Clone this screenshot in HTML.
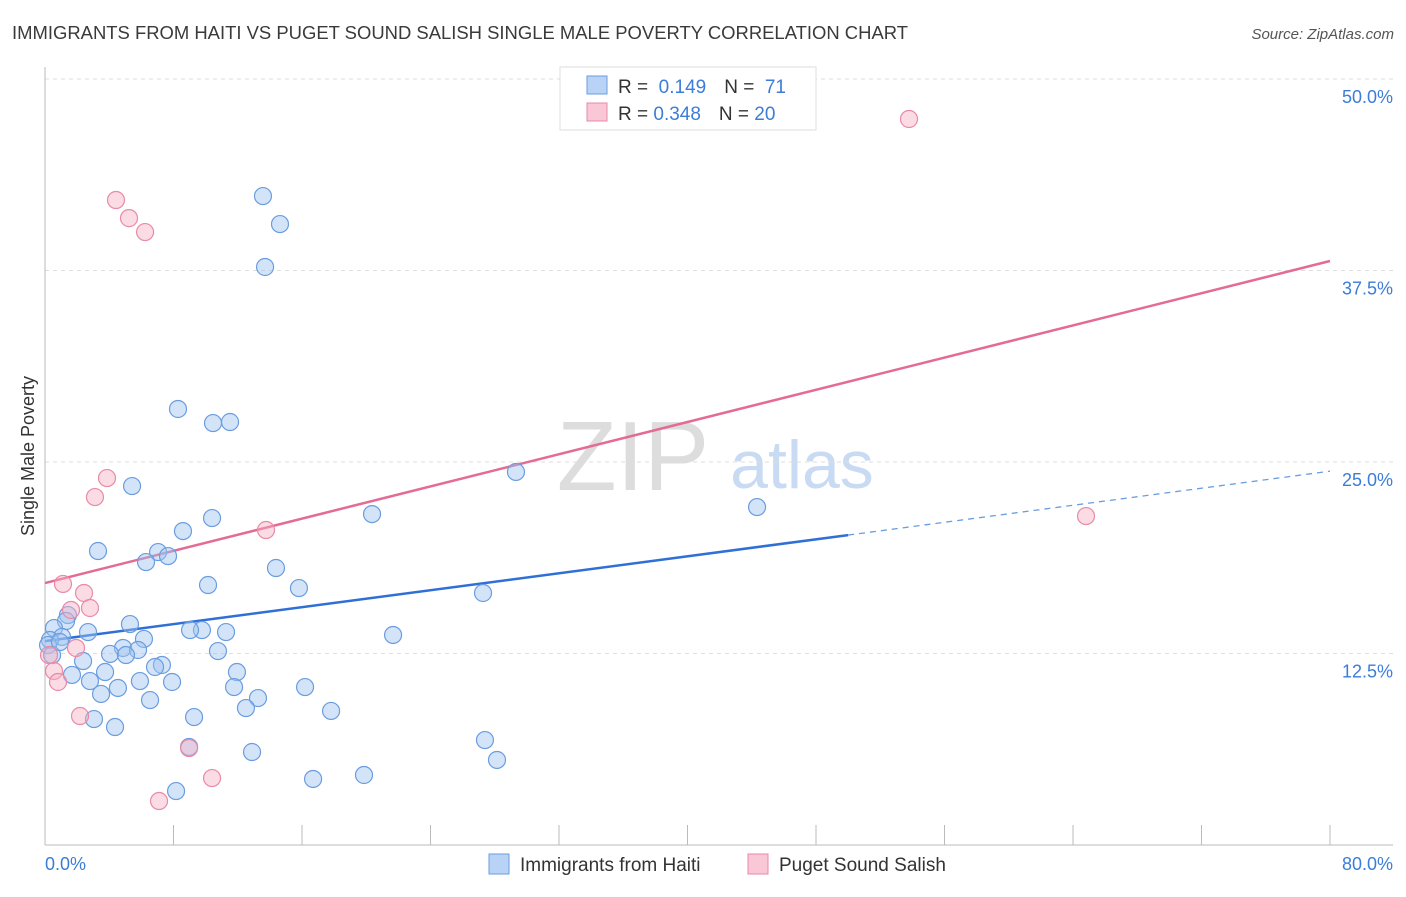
<!DOCTYPE html>
<html><head><meta charset="utf-8"><style>
body{margin:0;background:#fff;font-family:"Liberation Sans",sans-serif}
svg text{font-family:"Liberation Sans",sans-serif}
</style></head><body>
<svg id="chart" width="1406" height="892" xmlns="http://www.w3.org/2000/svg">
<text x="12" y="39" font-size="18.4" fill="#3a3a3a" textLength="896" lengthAdjust="spacingAndGlyphs">IMMIGRANTS FROM HAITI VS PUGET SOUND SALISH SINGLE MALE POVERTY CORRELATION CHART</text>
<text x="1394" y="39" font-size="15" fill="#555" text-anchor="end" font-style="italic">Source: ZipAtlas.com</text>
<g>
<text x="633" y="490" font-size="98" fill="#ddd" font-family="Liberation Serif,serif" text-anchor="middle">ZIP</text>
<text x="802" y="488" font-size="68" fill="#c9daf3" text-anchor="middle">atlas</text>
</g>
<g id="grid"></g>
<g id="axes"></g>
<g id="lines"></g>
<g id="pts"></g>
<text transform="translate(34,456) rotate(-90)" font-size="18" fill="#333" text-anchor="middle">Single Male Poverty</text>
<text x="45" y="870" font-size="18" fill="#3b7dd8">0.0%</text>
<text x="1393" y="870" font-size="18" fill="#3b7dd8" text-anchor="end">80.0%</text>
<g>
<rect x="560" y="67" width="256" height="63" fill="#fff" stroke="#ddd"/>
<rect x="587" y="76" width="20" height="18" fill="#b8d3f5" stroke="#6a9de0"/>
<rect x="587" y="103" width="20" height="18" fill="#f9c7d5" stroke="#e98aa6"/>
<text x="618" y="93" font-size="19" fill="#333">R = <tspan fill="#3b7dd8">&#160;0.149</tspan><tspan dx="18">N = </tspan><tspan fill="#3b7dd8">&#160;71</tspan></text>
<text x="618" y="120" font-size="19" fill="#333">R = <tspan fill="#3b7dd8">0.348</tspan><tspan dx="18">N = </tspan><tspan fill="#3b7dd8">20</tspan></text>
</g>
<g>
<rect x="489" y="854" width="20" height="20" fill="#b8d3f5" stroke="#6a9de0"/>
<text x="520" y="871" font-size="19" fill="#333">Immigrants from Haiti</text>
<rect x="748" y="854" width="20" height="20" fill="#f9c7d5" stroke="#e98aa6"/>
<text x="779" y="871" font-size="19" fill="#333">Puget Sound Salish</text>
</g>
</svg>
<script>
const yTicks=[12.5,25,37.5,50];
const blueX=[13.57,14.63,13.70,8.28,10.46,11.52,29.32,5.42,44.33,10.40,20.36,8.59,3.30,7.04,7.66,6.29,14.38,10.15,15.81,27.27,1.43,1.31,5.29,2.68,0.56,9.77,11.27,21.67,1.06,6.16,0.31,4.86,5.79,10.77,4.05,5.04,2.37,7.28,6.85,3.74,11.95,1.68,5.91,7.91,2.80,4.54,11.77,16.19,3.49,13.26,6.54,12.51,17.81,9.28,3.05,4.36,27.39,8.97,12.89,28.14,19.86,16.69,8.16,0.19,0.44,0.93,9.03];
const blueY=[42.36,40.53,37.73,28.46,27.54,27.61,24.35,23.43,22.06,21.34,21.60,20.49,19.19,19.12,18.86,18.47,18.08,16.97,16.77,16.45,15.01,14.62,14.42,13.90,14.16,14.03,13.90,13.71,13.58,13.45,13.38,12.86,12.73,12.66,12.47,12.40,12.01,11.75,11.62,11.29,11.29,11.10,10.70,10.64,10.70,10.25,10.31,10.31,9.86,9.59,9.46,8.94,8.75,8.35,8.22,7.70,6.85,6.40,6.07,5.55,4.57,4.31,3.52,13.05,12.40,13.25,14.03];
const pinkX=[53.79,4.42,5.23,6.23,3.86,3.11,13.76,1.12,2.43,1.62,2.80,1.93,0.25,0.56,0.81,2.18,8.97,10.40,7.10,64.81];
const pinkY=[47.39,42.10,40.92,40.01,23.95,22.71,20.56,17.04,16.45,15.34,15.47,12.86,12.40,11.36,10.64,8.42,6.33,4.37,2.87,21.47];
const blueTrend=[13.31,20.23,24.40]; // at x=0, 50, 80
const pinkTrend=[17.10,38.12]; // at x=0, 80
const NS='http://www.w3.org/2000/svg';
const sx=v=>45+v/80*1285, sy=v=>845-v/50*766;
function mk(tag,attrs,parent){const e=document.createElementNS(NS,tag);for(const k in attrs)e.setAttribute(k,attrs[k]);document.getElementById(parent).appendChild(e);return e;}
yTicks.forEach(t=>{
 const g=mk('line',{x1:45,x2:1393,y1:sy(t),y2:sy(t),stroke:'#ddd','stroke-dasharray':'4,4'},'grid');
 
 
 const l=mk('text',{x:1393,y:sy(t)+24,'font-size':18,fill:'#3b7dd8','text-anchor':'end'},'grid');
 l.textContent=t.toFixed(1)+'%';
 
 
});
const a1=mk('line',{x1:45,x2:45,y1:67,y2:845,stroke:'#bbb'},'axes');


const a2=mk('line',{x1:45,x2:1393,y1:845,y2:845,stroke:'#bbb'},'axes');


for(let i=0;i<=10;i++){const t=mk('line',{x1:sx(i*8),x2:sx(i*8),y1:825,y2:845,stroke:'#bbb'},'axes');
 
 }
function dots(X,Y,fill,stroke,name){X.forEach((x,i)=>{const c=mk('circle',{cx:sx(x),cy:sy(Y[i]),r:8.5,fill:fill,stroke:stroke,'stroke-width':1.2},'pts');
 
 });}
dots(blueX,blueY,'rgba(160,196,240,0.45)','#6a9de0','haiti-point');
dots(pinkX,pinkY,'rgba(246,178,198,0.45)','#e98aa6','salish-point');
const b1=mk('line',{x1:sx(0),y1:sy(blueTrend[0]),x2:sx(50),y2:sy(blueTrend[1]),stroke:'#2f6fd6','stroke-width':2.5},'lines');


const b2=mk('line',{x1:sx(50),y1:sy(blueTrend[1]),x2:sx(80),y2:sy(blueTrend[2]),stroke:'#6a9de0','stroke-width':1.3,'stroke-dasharray':'6,5'},'lines');


const p1=mk('line',{x1:sx(0),y1:sy(pinkTrend[0]),x2:sx(80),y2:sy(pinkTrend[1]),stroke:'#e46b93','stroke-width':2.5},'lines');


</script>
</body></html>
